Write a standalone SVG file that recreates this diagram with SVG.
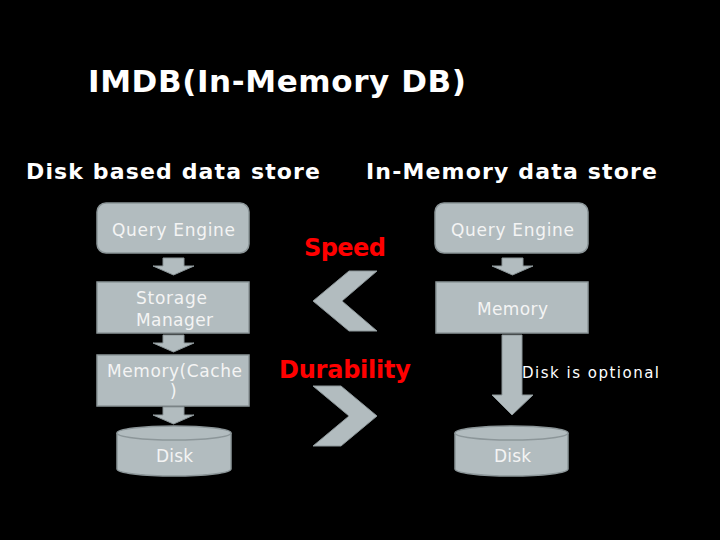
<svg xmlns="http://www.w3.org/2000/svg" width="720" height="540" viewBox="0 0 720 540">
<style>
.box{fill:#b2bcbf;stroke:#8c9699;stroke-width:1.5}
.arr{fill:#b2bcbf;stroke:#8c9699;stroke-width:1}
.lbl{font-family:"DejaVu Sans",sans-serif;font-size:17px;fill:#f4f4f4}
.hd{font-family:"DejaVu Sans",sans-serif;font-weight:bold;fill:#ffffff}
.red{font-family:"DejaVu Sans",sans-serif;font-weight:bold;fill:#ff0000;font-size:24px}
</style>
<rect width="720" height="540" fill="#000"/>
<text class="hd" x="88" y="92" font-size="31" textLength="378" lengthAdjust="spacing">IMDB(In-Memory DB)</text>
<text class="hd" x="26" y="179" font-size="22" textLength="294" lengthAdjust="spacing">Disk based data store</text>
<text class="hd" x="366" y="179" font-size="22" textLength="291" lengthAdjust="spacing">In-Memory data store</text>
<text class="red" x="304" y="256" textLength="82" lengthAdjust="spacing">Speed</text>
<text class="red" x="279" y="378" textLength="132" lengthAdjust="spacing">Durability</text>
<g id="connectors">
<polygon class="arr" points="163,258 184,258 184,266 194,266 173.5,275 153,266 163,266"/>
<polygon class="arr" points="163,335 184,335 184,343 194,343 173.5,352 153,343 163,343"/>
<polygon class="arr" points="163,407 184,407 184,415 194,415 173.5,424 153,415 163,415"/>
<polygon class="arr" points="502,258 523,258 523,266 533,266 512.5,275 492,266 502,266"/>
<polygon class="arr" points="502,335 522,335 522,395 533,395 512,415 492,395 502,395"/>
<polygon class="arr" points="349,271 377,271 342,301 377,331 349,331 313,301"/>
<polygon class="arr" points="313,386 341,386 377,416 341,446 313,446 349,416"/>
</g>
<g id="l-query">
<rect class="box" x="97" y="203" width="152" height="50" rx="9"/>
<text class="lbl" x="112" y="236" textLength="123" lengthAdjust="spacing">Query Engine</text>
</g>
<g id="l-storage">
<rect class="box" x="97" y="282" width="152" height="51"/>
<text class="lbl" x="136" y="304" textLength="71" lengthAdjust="spacing">Storage</text>
<text class="lbl" x="136" y="326" textLength="77" lengthAdjust="spacing">Manager</text>
</g>
<g id="l-memory">
<rect class="box" x="97" y="355" width="152" height="51"/>
<text class="lbl" x="107" y="377" textLength="135" lengthAdjust="spacing">Memory(Cache</text>
<text class="lbl" x="170" y="397">)</text>
</g>
<g id="l-disk">
<path class="box" d="M117,433 L117,469 A57,7 0 0 0 231,469 L231,433"/>
<ellipse class="box" cx="174" cy="433" rx="57" ry="7"/>
<text class="lbl" x="156" y="462" textLength="37" lengthAdjust="spacing">Disk</text>
</g>
<g id="r-query">
<rect class="box" x="435" y="203" width="153" height="50" rx="9"/>
<text class="lbl" x="451" y="236" textLength="123" lengthAdjust="spacing">Query Engine</text>
</g>
<g id="r-memory">
<rect class="box" x="436" y="282" width="152" height="51"/>
<text class="lbl" x="477" y="315" textLength="71" lengthAdjust="spacing">Memory</text>
</g>
<g id="r-disk">
<path class="box" d="M455,433 L455,469 A56.5,7 0 0 0 568,469 L568,433"/>
<ellipse class="box" cx="511.5" cy="433" rx="56.5" ry="7"/>
<text class="lbl" x="494" y="462" textLength="37" lengthAdjust="spacing">Disk</text>
</g>
<text x="522" y="378" font-family="DejaVu Sans,sans-serif" font-size="15" fill="#ffffff" textLength="137" lengthAdjust="spacing">Disk is optional</text>
</svg>
